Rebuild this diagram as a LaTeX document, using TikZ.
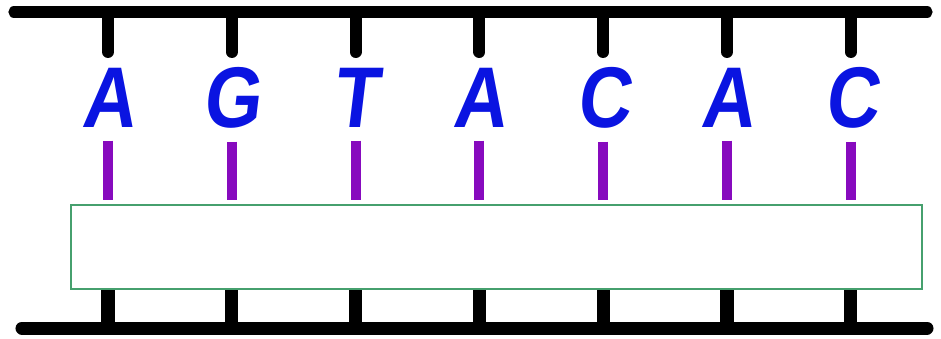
\documentclass[tikz,border=0pt]{standalone}
\usepackage{fontspec}
\setmainfont{Liberation Sans}
\newfontfamily\basefont{Liberation Sans Bold}[FakeSlant=0.12, FakeStretch=0.86]
\usetikzlibrary{positioning, calc}
\definecolor{baseblue}{RGB}{10,20,225}
\definecolor{bondpurple}{RGB}{135,10,190}
\definecolor{boxgreen}{RGB}{70,160,110}
\tikzset{
  backbone/.style={line width=3.2pt, line cap=round},
  sugar/.style={line width=3.4pt, line cap=round},
  lowsugar/.style={line width=3.7pt},
  hbond/.style={line width=2.8pt, bondpurple},
  basebox/.style={text=baseblue, inner sep=0pt, anchor=base,
    font=\basefont\fontsize{24.5}{24.5}\selectfont},
  gapbox/.style={draw=boxgreen, line width=0.6pt, fill=white, inner sep=0pt,
    minimum width=8.51cm, minimum height=0.84cm}
}

\begin{document}
\begin{tikzpicture}[x=0.01cm, y=-0.01cm]
        \useasboundingbox (0,0) rectangle (941,338);
        \coordinate (tl) at (14,12);
        \coordinate (tr) at (927,12);
        \coordinate (bl) at (22,328);
        \coordinate (br) at (927,328);
        \coordinate (tickend) at (0,52);
        \draw[backbone] (tl) -- (tr);
        \draw[backbone, line width=3.7pt] (bl) -- (br);
        \node[gapbox] (gap) at (496.5,247) {};
        \foreach \b [count=\i from 0] in {A,G,T,A,C,A,C} {
          \pgfmathsetmacro\xx{108+123.8*\i}
          \node[basebox] (b\i) at (\xx,127) {\b};
          \draw[sugar] (b\i |- tl) -- (b\i |- tickend);
          \draw[hbond] ($(b\i.south)+(0,13)$) -- ($(b\i |- gap.north)+(0,-4)$);
          \draw[lowsugar] (b\i |- gap.south) -- (b\i |- bl);
        }
      \end{tikzpicture}
\end{document}
